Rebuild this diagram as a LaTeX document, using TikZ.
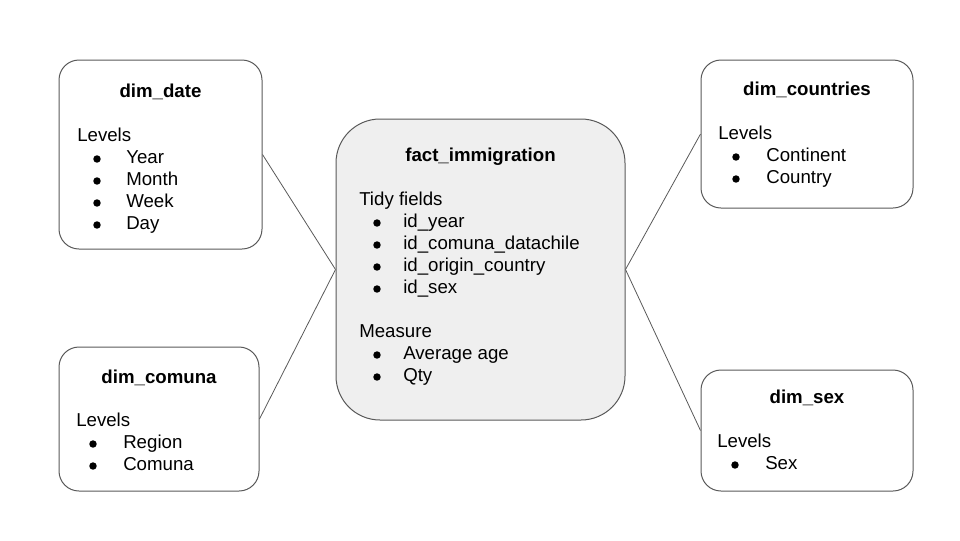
\documentclass[tikz,border=0pt]{standalone}
\usepackage{fontspec}
\setmainfont{Liberation Sans}
\definecolor{edge}{HTML}{595959}
\definecolor{factfill}{HTML}{EFEFEF}
\tikzset{
  dimbox/.style={draw=edge, line width=0.75pt, rounded corners=15pt, inner sep=0pt},
  factbox/.style={draw=edge, line width=0.75pt, rounded corners=33pt, fill=factfill, inner sep=0pt},
  link/.style={draw=edge, line width=0.6pt},
  title/.style={anchor=base, inner sep=0pt, font=\fontsize{14pt}{16pt}\selectfont\bfseries},
  txt/.style={anchor=base west, inner sep=0pt, font=\fontsize{14pt}{16pt}\selectfont},
  bul/.style={circle, fill=black, inner sep=0pt, minimum size=5.6pt, anchor=south},
}
\begin{document}
\begin{tikzpicture}[x=0.75pt, y=-0.75pt]
\useasboundingbox (0,0) rectangle (960,540);
% boxes
\node[dimbox, minimum width=152.25pt, minimum height=141.75pt] (date) at (160.5,154.5) {};
\node[dimbox, minimum width=150pt, minimum height=108pt] (comuna) at (159,419) {};
\node[factbox, minimum width=216.75pt, minimum height=225.75pt] (fact) at (480.5,269.5) {};
\node[dimbox, minimum width=159pt, minimum height=111pt] (countries) at (807,134) {};
\node[dimbox, minimum width=159pt, minimum height=90.75pt] (sex) at (807,430.5) {};
% connectors
\draw[link] (date.east) -- (fact.west);
\draw[link] (comuna.east) -- (fact.west);
\draw[link] (fact.east) -- (countries.west);
\draw[link] (fact.east) -- (sex.west);
% dim_date
\node[title] (t1) at (160.5,97) {dim\_date};
\node[txt] (l1) at (77,141) {Levels};
\foreach \y/\s [count=\i] in {163/Year,185/Month,207/Week,229/Day}{
  \node[bul] (db\i) at (97,\y) {};
  \node[txt] (dt\i) at (126,\y) {\s};
}
% dim_comuna
\node[title] (t2) at (159,383) {dim\_comuna};
\node[txt] (l2) at (76,426) {Levels};
\foreach \y/\s [count=\i] in {448/Region,470/Comuna}{
  \node[bul] (cb\i) at (93,\y) {};
  \node[txt] (ct\i) at (123,\y) {\s};
}
% fact
\node[title] (t3) at (480.5,161) {fact\_immigration};
\node[txt] (l3) at (359,205) {Tidy fields};
\foreach \y/\s [count=\i] in {227/id\_year,249/id\_comuna\_datachile,271/id\_origin\_country,293/id\_sex}{
  \node[bul] (fb\i) at (377,\y) {};
  \node[txt] (ft\i) at (403,\y) {\s};
}
\node[txt] (m3) at (359,337) {Measure};
\foreach \y/\s [count=\i] in {359/Average age,381/Qty}{
  \node[bul] (mb\i) at (377,\y) {};
  \node[txt] (mt\i) at (403,\y) {\s};
}
% dim_countries
\node[title] (t4) at (807,95) {dim\_countries};
\node[txt] (l4) at (718,139) {Levels};
\foreach \y/\s [count=\i] in {161/Continent,183/Country}{
  \node[bul] (kb\i) at (736,\y) {};
  \node[txt] (kt\i) at (766,\y) {\s};
}
% dim_sex
\node[title] (t5) at (807,403) {dim\_sex};
\node[txt] (l5) at (717,447) {Levels};
\node[bul] (sb1) at (735,469) {};
\node[txt] (st1) at (765,469) {Sex};
\end{tikzpicture}
\end{document}
